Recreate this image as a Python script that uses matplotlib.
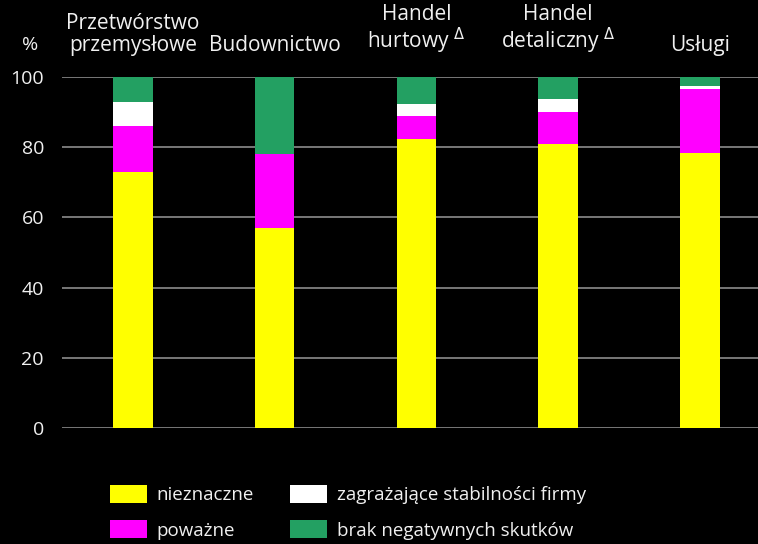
import matplotlib.pyplot as plt
import numpy as np

plt.rcParams['font.family'] = ['Open Sans', 'DejaVu Sans']

# categories (top labels) and stacked shares in %
categories = ["Przetwórstwo\nprzemysłowe", "Budownictwo", "Handel\nhurtowy $^{\\Delta}$",
              "Handel\ndetaliczny $^{\\Delta}$", "Usługi"]
nieznaczne = [73.0, 57.0, 82.4, 81.0, 78.4]
powazne = [13.0, 21.0, 6.6, 9.0, 18.1]
zagrazajace = [7.0, 0.0, 3.3, 3.7, 1.0]
brak = [7.0, 22.0, 7.7, 6.3, 2.5]

series = [nieznaczne, powazne, zagrazajace, brak]
labels = ["nieznaczne", "poważne", "zagrażające stabilności firmy", "brak negatywnych skutków"]
colors = ["#ffff00", "#ff00ff", "#ffffff", "#23a062"]

fig = plt.figure(figsize=(7.58, 5.44), dpi=100, facecolor="black")
ax = fig.add_axes([62 / 758, 116 / 544, 1 - 62 / 758, 351 / 544])
ax.set_facecolor("black")

x = np.arange(len(categories))
bottom = np.zeros(len(categories))
handles = []
for vals, lab, col in zip(series, labels, colors):
    b = ax.bar(x, vals, width=0.28, bottom=bottom, color=col, label=lab, zorder=3)
    handles.append(b)
    bottom += np.array(vals)

ax.set_ylim(0, 100)
ax.set_xlim(-0.5, 4.41)
ax.set_yticks(range(0, 101, 20))
ax.yaxis.grid(True, color="#8c8c8c", linewidth=1.2, zorder=0)
ax.set_xticks([])
for s in ax.spines.values():
    s.set_visible(False)
ax.tick_params(axis="y", length=0, labelsize=14, labelcolor="#f0f0f0", pad=13)

# category labels on top
for xi, cat in zip(x, categories):
    ax.text(xi, 1.06, cat, transform=ax.get_xaxis_transform(), ha="center", va="bottom",
            multialignment="center", fontsize=15, color="#f0f0f0", linespacing=1.05)

fig.text(30 / 758, 1 - 45 / 544, "%", ha="center", va="center", fontsize=14, color="#f0f0f0")

leg = fig.legend(handles=handles, loc="upper left", bbox_to_anchor=(93 / 758, 1 - 468 / 544),
                 ncol=2, frameon=False, fontsize=13.5, labelcolor="#f0f0f0",
                 handlelength=2.0, handleheight=1.1, handletextpad=0.5,
                 columnspacing=1.9, labelspacing=0.85)

fig.savefig("out.png", dpi=100, facecolor="black")
